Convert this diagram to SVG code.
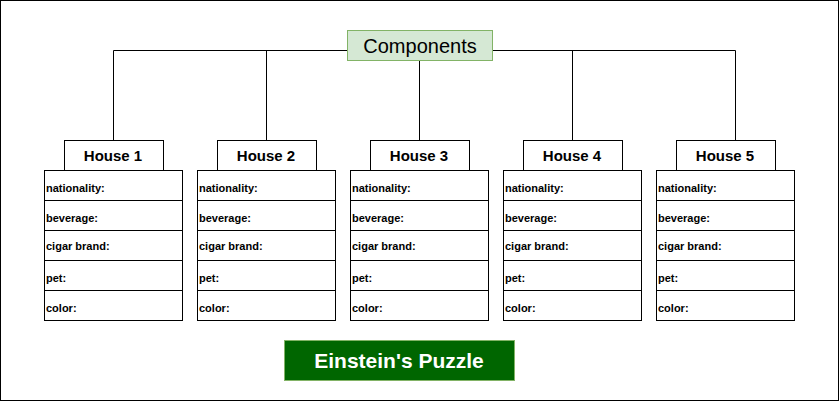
<svg xmlns="http://www.w3.org/2000/svg" width="839" height="401" viewBox="0 0 839 401">
<style>
.frame{fill:#ffffff;stroke:#000000;stroke-width:1}
.conn{fill:none;stroke:#000000;stroke-width:1}
.hdr{fill:#ffffff;stroke:#000000;stroke-width:1}
.cell{fill:#ffffff;stroke:#000000;stroke-width:1}
.ht{font-family:"Liberation Sans",Arial,sans-serif;font-size:15px;font-weight:bold;fill:#000;text-anchor:middle}
.ct{font-family:"Liberation Sans",Arial,sans-serif;font-size:11px;font-weight:bold;fill:#000}
</style>
<rect class="frame" x="0.5" y="0.5" width="838" height="400"/>
<g id="connectors">
<path class="conn" d="M347 50.5 H113.5 V140 M266.5 50.5 V140 M492 50.5 H735.5 V140 M572.5 50.5 V140 M419.5 60 V140"/>
</g>
<g id="components">
<rect x="347.5" y="30.5" width="145" height="30" fill="#d5e8d4" stroke="#82b366"/>
<text x="420" y="52.5" font-family="Liberation Sans, Arial, sans-serif" font-size="20" text-anchor="middle" fill="#000">Components</text>
</g>
<defs>
<g id="table">
<rect class="cell" x="0.5" y="0.5" width="138" height="30"/>
<rect class="cell" x="0.5" y="30.5" width="138" height="30"/>
<rect class="cell" x="0.5" y="60.5" width="138" height="30"/>
<rect class="cell" x="0.5" y="90.5" width="138" height="30"/>
<rect class="cell" x="0.5" y="120.5" width="138" height="30"/>
<text class="ct" x="2" y="22">nationality:</text>
<text class="ct" x="2" y="52">beverage:</text>
<text class="ct" x="2" y="80">cigar brand:</text>
<text class="ct" x="2" y="112">pet:</text>
<text class="ct" x="2" y="142">color:</text>
</g>
</defs>
<g id="house1">
<rect class="hdr" x="64.5" y="140.5" width="99" height="30"/>
<text class="ht" x="113" y="161">House 1</text>
<use href="#table" x="44" y="170"/>
</g>
<g id="house2">
<rect class="hdr" x="217.5" y="140.5" width="99" height="30"/>
<text class="ht" x="266" y="161">House 2</text>
<use href="#table" x="197" y="170"/>
</g>
<g id="house3">
<rect class="hdr" x="370.5" y="140.5" width="99" height="30"/>
<text class="ht" x="419" y="161">House 3</text>
<use href="#table" x="350" y="170"/>
</g>
<g id="house4">
<rect class="hdr" x="523.5" y="140.5" width="99" height="30"/>
<text class="ht" x="572" y="161">House 4</text>
<use href="#table" x="503" y="170"/>
</g>
<g id="house5">
<rect class="hdr" x="676.5" y="140.5" width="99" height="30"/>
<text class="ht" x="725" y="161">House 5</text>
<use href="#table" x="656" y="170"/>
</g>
<g id="title">
<rect x="284.5" y="340.5" width="230" height="40" fill="#006600" stroke="#82b366"/>
<text x="399" y="368" font-family="Liberation Sans, Arial, sans-serif" font-size="21" font-weight="bold" text-anchor="middle" fill="#ffffff">Einstein's Puzzle</text>
</g>
</svg>
